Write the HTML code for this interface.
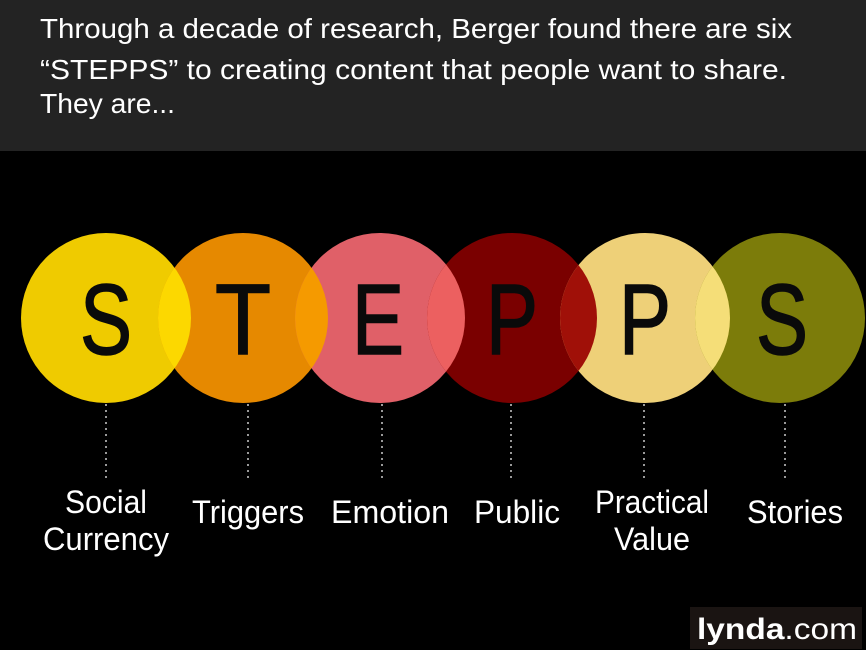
<!DOCTYPE html>
<html><head><meta charset="utf-8"><style>
html,body{margin:0;padding:0;background:#000;}
svg{display:block}
</style></head><body>
<svg width="866" height="650" viewBox="0 0 866 650" xmlns="http://www.w3.org/2000/svg" font-family="Liberation Sans, sans-serif">
<rect x="0" y="0" width="866" height="650" fill="#000"/>
<rect x="0" y="0" width="866" height="151" fill="#232323"/>
<g fill="#fff" font-size="28">
<text x="40" y="38" textLength="752" lengthAdjust="spacingAndGlyphs">Through a decade of research, Berger found there are six</text>
<text x="40" y="79" textLength="747" lengthAdjust="spacingAndGlyphs">“STEPPS” to creating content that people want to share.</text>
<text x="40" y="113" textLength="135" lengthAdjust="spacingAndGlyphs">They are...</text>
</g>
<defs>
<clipPath id="c1"><circle cx="106" cy="318" r="85"/></clipPath>
<clipPath id="c2"><circle cx="243" cy="318" r="85"/></clipPath>
<clipPath id="c3"><circle cx="380" cy="318" r="85"/></clipPath>
<clipPath id="c4"><circle cx="512" cy="318" r="85"/></clipPath>
<clipPath id="c5"><circle cx="645" cy="318" r="85"/></clipPath>
</defs>
<circle cx="106" cy="318" r="85" fill="#efcb00"/>
<circle cx="243" cy="318" r="85" fill="#e68900"/>
<circle cx="380" cy="318" r="85" fill="#e06068"/>
<circle cx="512" cy="318" r="85" fill="#7a0000"/>
<circle cx="645" cy="318" r="85" fill="#eed078"/>
<circle cx="780" cy="318" r="85" fill="#7c7c0a"/>
<circle cx="243" cy="318" r="85" fill="#fcd800" clip-path="url(#c1)"/>
<circle cx="380" cy="318" r="85" fill="#f59a00" clip-path="url(#c2)"/>
<circle cx="512" cy="318" r="85" fill="#ec6060" clip-path="url(#c3)"/>
<circle cx="645" cy="318" r="85" fill="#a01008" clip-path="url(#c4)"/>
<circle cx="780" cy="318" r="85" fill="#f5de78" clip-path="url(#c5)"/>
<g fill="#0a0a0a" stroke="#0a0a0a" stroke-width="1.5" font-size="100" text-anchor="middle">
<text x="106" y="354" textLength="52" lengthAdjust="spacingAndGlyphs">S</text>
<text x="243" y="354" textLength="56" lengthAdjust="spacingAndGlyphs">T</text>
<text x="378" y="354" textLength="52" lengthAdjust="spacingAndGlyphs">E</text>
<text x="512" y="354" textLength="52" lengthAdjust="spacingAndGlyphs">P</text>
<text x="645" y="354" textLength="52" lengthAdjust="spacingAndGlyphs">P</text>
<text x="782" y="354" textLength="52" lengthAdjust="spacingAndGlyphs">S</text>
</g>
<g stroke="#ccc" stroke-width="1.5" stroke-dasharray="2,4">
<line x1="106" y1="404" x2="106" y2="482"/>
<line x1="248" y1="404" x2="248" y2="482"/>
<line x1="382" y1="404" x2="382" y2="482"/>
<line x1="511" y1="404" x2="511" y2="482"/>
<line x1="644" y1="404" x2="644" y2="482"/>
<line x1="785" y1="404" x2="785" y2="482"/>
</g>
<g fill="#fff" font-size="32" text-anchor="middle">
<text x="106" y="513" textLength="82" lengthAdjust="spacingAndGlyphs">Social</text>
<text x="106" y="550" textLength="126" lengthAdjust="spacingAndGlyphs">Currency</text>
<text x="248" y="523" textLength="112" lengthAdjust="spacingAndGlyphs">Triggers</text>
<text x="390" y="523" textLength="118" lengthAdjust="spacingAndGlyphs">Emotion</text>
<text x="517" y="523" textLength="86" lengthAdjust="spacingAndGlyphs">Public</text>
<text x="652" y="513" textLength="114" lengthAdjust="spacingAndGlyphs">Practical</text>
<text x="652" y="550" textLength="76" lengthAdjust="spacingAndGlyphs">Value</text>
<text x="795" y="523" textLength="96" lengthAdjust="spacingAndGlyphs">Stories</text>
</g>
<rect x="690" y="607" width="172" height="42" fill="#1a1412"/>
<text x="697" y="639" fill="#fff" font-size="30" textLength="160" lengthAdjust="spacingAndGlyphs"><tspan font-weight="bold">lynda</tspan>.com</text>
</svg>
</body></html>
